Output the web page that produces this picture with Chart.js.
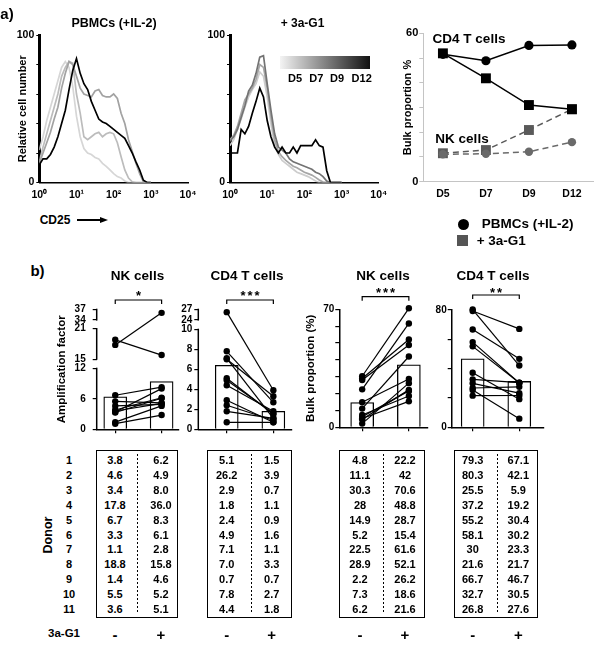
<!DOCTYPE html>
<html>
<head>
<meta charset="utf-8">
<script src="https://cdn.jsdelivr.net/npm/chart.js@4.4.1/dist/chart.umd.min.js"></script>
<style>
html, body { margin: 0; padding: 0; background: #fff; }
#fig { position: relative; width: 600px; height: 645px; overflow: hidden; background: #fff;
       font-family: "Liberation Sans", Arial, sans-serif; font-weight: bold; color: #000; }
.lbl { position: absolute; white-space: nowrap; transform: translate(-50%, -50%); line-height: 1; }
.tbl { position: absolute; border: 1.5px solid #000; box-sizing: border-box; }
</style>
</head>
<body>
<div id="fig"></div>
<script>
// ---- panel a: CD25 histograms (x in decades of CD25 fluorescence) ----
const cd25Decades = [0, 0.1, 0.2, 0.3, 0.4, 0.5, 0.6, 0.7, 0.8, 0.9, 1.0, 1.1, 1.2, 1.3, 1.4, 1.5,
                     1.6, 1.7, 1.8, 1.9, 2.0, 2.1, 2.2, 2.3, 2.4, 2.5, 2.6, 2.7, 2.8, 2.9, 3.0];
const decadeTicks = [0, 1, 2, 3, 4];
const histDays = ['D5', 'D7', 'D9', 'D12'];

const pbmcD5  = [22, 31, 42, 51, 60, 69, 78, 82, 78, 65, 45, 31, 23, 20, 19, 17, 16, 13, 11, 8.5, 6, 4, 3, 1, 0, 0, 0, 0, 0, 0, 0];
const pbmcD7  = [14, 24, 33, 42, 51, 60, 72, 78, 82, 81, 60, 47, 31, 29, 31, 33, 34, 31, 33, 34, 33, 27, 17.5, 8.5, 3, 0.5, 0, 0, 0, 0, 0];
const pbmcD9  = [13, 20, 27, 34, 43, 51, 64, 74, 82, 80, 72, 64, 60, 59, 58, 62, 63, 59, 58, 58, 60, 57, 47, 40, 29, 21, 13, 6, 0.5, 0, 0];
const pbmcD12 = [12, 16, 16, 19, 24, 31, 40, 49, 63, 76, 84, 74, 67, 63, 55, 49, 43, 41, 40, 38, 36, 34, 32, 30, 25, 20, 14, 8.5, 1.5, 0, 0];

const g1D5  = [25, 29, 36, 43, 51, 58, 63, 67, 75, 72, 58, 40, 25, 19, 15, 13, 11, 9, 7, 6, 5, 4, 2.5, 1, 0, 0, 0, 0, 0, 0, 0];
const g1D7  = [29, 32, 38, 47, 56, 60, 64, 70, 80, 78, 64, 45, 29, 21, 17.5, 15, 13, 11, 10, 8.5, 7, 6, 5, 3.5, 1.7, 0.3, 0, 0, 0, 0, 0];
const g1D9  = [28, 31, 36, 44, 52, 62, 66, 74, 85, 86, 67, 49, 33, 24, 22, 20, 16, 14, 13, 12, 11, 10, 9, 7, 6, 4, 1, 0, 0, 0, 0];
const g1D12 = [20, 20, 20, 36, 33, 38, 47, 55, 64, 58, 42, 31, 24, 20, 24, 20, 20, 24, 20, 25, 25, 25, 25, 29, 25, 24, 8, 0, 0, 0, 0];

// ---- panel a: bulk proportion over time ----
const bulkDays = ['D5', 'D7', 'D9', 'D12'];
const cd4Pbmc = [51.5, 48.9, 55.1, 55.3];
const cd4G1   = [51.9, 41.8, 31.0, 29.3];
const nkPbmc  = [11.1, 11.3, 12.1, 16.0];
const nkG1    = [11.5, 12.8, 20.9, 29.3];
const bulkTicks = [0, 10, 20, 30, 40, 50, 60];
const bulkShown = [0, 60];
const legendLabels = ['PBMCs (+IL-2)', '+ 3a-G1'];

// ---- panel b: per-donor values ----
const donors = ['1', '2', '3', '4', '5', '6', '7', '8', '9', '10', '11'];
const nkAmpMinus   = [3.8, 4.6, 3.4, 17.8, 6.7, 3.3, 1.1, 18.8, 1.4, 5.5, 3.6];
const nkAmpPlus    = [6.2, 4.9, 8.0, 36.0, 8.3, 6.1, 2.8, 15.8, 4.6, 5.2, 5.1];
const cd4AmpMinus  = [5.1, 26.2, 2.9, 1.8, 2.4, 4.9, 7.1, 7.0, 0.7, 7.8, 4.4];
const cd4AmpPlus   = [1.5, 3.9, 0.7, 1.1, 0.9, 1.6, 1.1, 3.3, 0.7, 2.7, 1.8];
const nkBulkMinus  = [4.8, 11.1, 30.3, 28, 14.9, 5.2, 22.5, 28.9, 2.2, 7.3, 6.2];
const nkBulkPlus   = [22.2, 42, 70.6, 48.8, 28.7, 15.4, 61.6, 52.1, 26.2, 18.6, 21.6];
const cd4BulkMinus = [79.3, 80.3, 25.5, 37.2, 55.2, 58.1, 30, 21.6, 66.7, 32.7, 26.8];
const cd4BulkPlus  = [67.1, 42.1, 5.9, 19.2, 30.4, 30.2, 23.3, 21.7, 46.7, 30.5, 27.6];
// bar heights (means)
const nkAmpMean   = [6.4, 9.4];
const cd4AmpMean  = [6.4, 1.8];
const nkBulkMean  = [14.7, 37.1];
const cd4BulkMean = [46.7, 31.3];
// tick labels
const nkAmpTicks  = [0, 6, 12, 15, 21, 34, 37];
const cd4AmpTicks = [0, 2, 4, 6, 8, 10, 24, 27];
const nkBulkTicks = [0, 10, 20, 30, 40, 50, 60, 70];
const nkBulkShown = [0, 70];
const cd4BulkTicks = [0, 20, 40, 60, 80];
const cd4BulkShown = [0, 80];
const signif = ['*', '***', '***', '**'];
const treatment = ['-', '+'];

// broken y axes: real value -> axis units
function brkNK(v) { if (v <= 12) return v; if (v <= 21) return 13.8 + (v - 15); return 21.5 + (v - 34) * 0.7; }
function brkCD4(v) { if (v <= 10) return v; return 10.93 + (v - 24) * 0.357; }

Chart.defaults.font.family = '"Liberation Sans", Arial, sans-serif';
Chart.defaults.font.weight = 'bold';
Chart.defaults.color = '#000';
Chart.defaults.animation = false;
Chart.defaults.responsive = false;
Chart.defaults.events = [];
Chart.defaults.plugins.legend.display = false;
Chart.defaults.plugins.tooltip.enabled = false;

const fig = document.getElementById('fig');
const sup = ['\u2070', '\u00B9', '\u00B2', '\u00B3', '\u2074'];

function addText(txt, x, y, size, extra) {
    const el = document.createElement('div');
    el.className = 'lbl';
    el.textContent = txt;
    el.style.left = x + 'px';
    el.style.top = y + 'px';
    el.style.fontSize = size + 'px';
    if (extra) Object.assign(el.style, extra);
    fig.appendChild(el);
    return el;
}

function makeCanvas(left, top, w, h) {
    const c = document.createElement('canvas');
    c.width = w; c.height = h;
    c.style.cssText = `position:absolute;left:${left}px;top:${top}px;width:${w}px;height:${h}px`;
    fig.appendChild(c);
    return c.getContext('2d');
}

const fixW = w => s => { s.width = w; s.paddingTop = 0; s.paddingBottom = 0; };
const fixH = h => s => { s.height = h; s.paddingLeft = 0; s.paddingRight = 0; };

// histograms
function histChart(left, series, colors, yW, padRight, yTitle) {
    const ctx = makeCanvas(left, 0, 200, 210);
    const drawOrder = [3, 2, 1, 0]; // D12 on top
    new Chart(ctx, {
        type: 'line',
        data: {
            datasets: drawOrder.map(i => ({
                label: histDays[i],
                data: cd25Decades.map((d, j) => ({x: d, y: series[i][j]})),
                borderColor: colors[i],
                borderWidth: 1.7,
                pointRadius: 0,
                tension: 0,
                fill: false
            }))
        },
        options: {
            layout: {padding: {top: 35, right: padRight, left: 0, bottom: 0}},
            scales: {
                x: {
                    type: 'linear', min: 0, max: 4,
                    afterFit: fixH(27.5),
                    afterBuildTicks: a => { a.ticks = decadeTicks.map(v => ({value: v})); },
                    ticks: {callback: v => '10' + sup[v], font: {size: 10.5, weight: 'bold'}, padding: 6, maxRotation: 0, autoSkip: false},
                    grid: {drawOnChartArea: false, drawTicks: false},
                    border: {color: '#000', width: 1.5}
                },
                y: {
                    min: 0, max: 100,
                    afterFit: fixW(yW),
                    ticks: {stepSize: 20, callback: v => (v === 0 || v === 100) ? v : '', font: {size: 10.5, weight: 'bold'}, padding: 2},
                    grid: {drawOnChartArea: false, tickLength: 3, color: '#000'},
                    border: {color: '#000', width: 3},
                    title: {display: !!yTitle, text: yTitle || '', font: {size: 11, weight: 'bold'}, padding: {top: 16.4, bottom: 0}}
                }
            }
        }
    });
}

histChart(0, [pbmcD5, pbmcD7, pbmcD9, pbmcD12], ['#d6d6d6', '#bcbcbc', '#a2a2a2', '#000'], 39.3, 12, 'Relative cell number');
histChart(190, [g1D5, g1D7, g1D9, g1D12], ['#cdcdcd', '#a6a6a6', '#737373', '#000'], 40, 11.2, '');

// bulk proportion line chart
const ctxL = makeCanvas(380, 0, 220, 210);
function lineSet(vals, color, style, radius, dash) {
    return {
        data: vals.map((v, i) => ({x: i, y: v})),
        borderColor: color, borderWidth: 1.5, borderDash: dash,
        pointStyle: style, pointRadius: radius,
        pointBackgroundColor: color, pointBorderColor: color, pointBorderWidth: 0,
        tension: 0, fill: false, clip: false
    };
}
new Chart(ctxL, {
    type: 'line',
    data: {
        datasets: [
            lineSet(cd4Pbmc, '#000', 'circle', 4.6, []),
            lineSet(cd4G1, '#000', 'rect', 7, []),
            lineSet(nkPbmc, '#6a6a6a', 'circle', 4.2, [6, 4]),
            lineSet(nkG1, '#5a5a5a', 'rect', 7, [6, 4])
        ]
    },
    options: {
        layout: {padding: {top: 33.3, right: 3.3, left: 0, bottom: 0}},
        scales: {
            x: {
                type: 'linear', min: -0.456, max: 3.49,
                afterFit: fixH(28.3),
                afterBuildTicks: a => { a.ticks = bulkDays.map((d, i) => ({value: i})); },
                ticks: {callback: v => bulkDays[v], font: {size: 10.5, weight: 'bold'}, padding: 6, maxRotation: 0, autoSkip: false},
                grid: {drawOnChartArea: false, drawTicks: false},
                border: {color: '#c4c4c4', width: 1}
            },
            y: {
                min: 0, max: 60,
                afterFit: fixW(43.3),
                afterBuildTicks: a => { a.ticks = bulkTicks.map(v => ({value: v})); },
                ticks: {callback: v => bulkShown.includes(v) ? v : '', font: {size: 11, weight: 'bold'}, padding: 1, autoSkip: false},
                grid: {drawOnChartArea: false, tickLength: 4, color: '#c4c4c4'},
                border: {color: '#c4c4c4', width: 1},
                title: {display: true, text: 'Bulk proportion %', font: {size: 11, weight: 'bold'}, padding: {top: 21.7, bottom: 0}}
            }
        }
    }
});

// panel b paired charts
function pairChart(o) {
    const ctx = makeCanvas(o.left, 280, o.w, 170);
    const map = o.map || (v => v);
    const decor = {
        id: 'decor',
        afterDatasetsDraw(chart) {
            const {ctx, chartArea: ca, scales: {x, y}} = chart;
            ctx.save();
            ctx.strokeStyle = '#000';
            if (o.segments) {
                ctx.lineWidth = 1.5;
                o.segments.forEach(([a, b]) => {
                    ctx.beginPath();
                    ctx.moveTo(ca.left, y.getPixelForValue(map(a)) + 0.6);
                    ctx.lineTo(ca.left, y.getPixelForValue(map(b)) - 0.6);
                    ctx.stroke();
                });
            }
            const x0 = x.getPixelForValue(0), x1 = x.getPixelForValue(1);
            ctx.lineWidth = 1.2;
            ctx.beginPath();
            ctx.moveTo(x0, o.bracketY + 4);
            ctx.lineTo(x0, o.bracketY);
            ctx.lineTo(x1, o.bracketY);
            ctx.lineTo(x1, o.bracketY + 4);
            ctx.stroke();
            ctx.fillStyle = '#000';
            ctx.font = 'bold 13px "Liberation Sans", Arial, sans-serif';
            ctx.textAlign = 'center';
            ctx.textBaseline = 'alphabetic';
            ctx.letterSpacing = '2px';
            ctx.fillText(o.stars, (x0 + x1) / 2 + 1, o.starY + 7.4);
            ctx.restore();
        }
    };
    new Chart(ctx, {
        type: 'bar',
        data: {
            datasets: [
                {
                    type: 'bar',
                    data: o.mean.map((m, i) => ({x: i, y: map(m)})),
                    backgroundColor: '#fff', borderColor: '#000', borderWidth: 1.3,
                    barThickness: 23, order: 2
                },
                ...o.minus.map((m, i) => ({
                    type: 'line',
                    data: [{x: 0, y: map(m)}, {x: 1, y: map(o.plus[i])}],
                    borderColor: '#000', borderWidth: 1.2,
                    pointRadius: 3.2, pointBackgroundColor: '#000', pointBorderWidth: 0,
                    tension: 0, fill: false, clip: false, order: 1
                }))
            ]
        },
        options: {
            layout: {padding: {left: 0, top: o.top, right: o.padRight, bottom: 0}},
            scales: {
                x: {
                    type: 'linear', offset: false, min: o.xMin, max: o.xMax,
                    afterFit: fixH(o.xH),
                    afterBuildTicks: a => { a.ticks = treatment.map((t, i) => ({value: i})); },
                    ticks: {callback: () => '', autoSkip: false},
                    grid: {offset: false, drawOnChartArea: false, tickLength: 4, color: '#000', lineWidth: 1.2},
                    border: {color: '#000', width: 1.5}
                },
                y: {
                    min: 0, max: o.yMax,
                    afterFit: fixW(o.yW),
                    afterBuildTicks: a => { a.ticks = o.ticks.map(v => ({value: map(v)})); },
                    ticks: {
                        callback: (v, i) => (!o.shown || o.shown.includes(o.ticks[i])) ? String(o.ticks[i]) : '',
                        font: {size: 10, weight: 'bold'}, padding: o.tickPad, autoSkip: false
                    },
                    grid: {drawOnChartArea: false, tickLength: 4, color: '#000', lineWidth: 1.2},
                    border: {display: !o.segments, color: '#000', width: 1.5},
                    title: {display: !!o.yTitle, text: o.yTitle || '', font: {size: 11.5, weight: 'bold'}, padding: {top: o.titlePad || 0, bottom: 0}}
                }
            }
        },
        plugins: [decor]
    });
}

pairChart({left: 0, w: 190, yW: 96.7, padRight: 11.7, top: 29.3, xH: 20.7, xMin: -0.40, xMax: 1.36,
    minus: nkAmpMinus, plus: nkAmpPlus, mean: nkAmpMean, map: brkNK, yMax: 23.6,
    ticks: nkAmpTicks, tickPad: 7, segments: [[0, 12], [15, 21], [34, 37]],
    yTitle: 'Amplification factor', titlePad: 55.1, stars: signif[0], bracketY: 20, starY: 12.7});
pairChart({left: 150, w: 150, yW: 48.3, padRight: 8, top: 29.3, xH: 20.7, xMin: -0.61, xMax: 1.40,
    minus: cd4AmpMinus, plus: cd4AmpPlus, mean: cd4AmpMean, map: brkCD4, yMax: 12.0,
    ticks: cd4AmpTicks, tickPad: 2, segments: [[0, 10], [24, 27]],
    stars: signif[1], bracketY: 20, starY: 12.7});
pairChart({left: 295, w: 145, yW: 44.3, padRight: 12, top: 29.3, xH: 22.7, xMin: -0.49, xMax: 1.41,
    minus: nkBulkMinus, plus: nkBulkPlus, mean: nkBulkMean, yMax: 70,
    ticks: nkBulkTicks, shown: nkBulkShown, tickPad: 1,
    yTitle: 'Bulk proportion (%)', titlePad: 8.8, stars: signif[2], bracketY: 16.7, starY: 10});
pairChart({left: 425, w: 130, yW: 26.7, padRight: 11.7, top: 30, xH: 22.7, xMin: -0.45, xMax: 1.515,
    minus: cd4BulkMinus, plus: cd4BulkPlus, mean: cd4BulkMean, yMax: 80,
    ticks: cd4BulkTicks, shown: cd4BulkShown, tickPad: 1,
    stars: signif[3], bracketY: 15, starY: 9.5});

// ---- text, legend, tables ----
addText('a)', 7, 12.5, 15);
addText('b)', 37.5, 270, 15);
addText('PBMCs (+IL-2)', 114, 23, 12.5);
addText('+ 3a-G1', 302.5, 22.7, 12);
addText('CD4 T cells', 469, 39, 13.5);
addText('NK cells', 462, 138.7, 13.5);

// day gradient key
const grad = document.createElement('div');
grad.style.cssText = 'position:absolute;left:280px;top:56px;width:90px;height:13px;background:linear-gradient(to right,#f4f4f4,#111);';
fig.appendChild(grad);
const dayX = [295, 316.3, 337, 361.7];
histDays.forEach((d, i) => addText(d, dayX[i], 77.5, 11));

// CD25 arrow
addText('CD25', 55, 220, 12);
const shaft = document.createElement('div');
shaft.style.cssText = 'position:absolute;left:77px;top:219.3px;width:24px;height:1.6px;background:#000;';
fig.appendChild(shaft);
const head = document.createElement('div');
head.style.cssText = 'position:absolute;left:100px;top:216.5px;width:0;height:0;border-top:3.6px solid transparent;border-bottom:3.6px solid transparent;border-left:8px solid #000;';
fig.appendChild(head);

// custom legend for the bulk proportion chart
function createCustomLegend() {
    const shapes = [{shape: 'circle', color: '#000', x: 463.3, y: 224, tx: 481.7},
                    {shape: 'square', color: '#555', x: 462.3, y: 240.7, tx: 476.7}];
    legendLabels.forEach((label, i) => {
        const s = shapes[i];
        const mark = document.createElement('div');
        mark.style.cssText = `position:absolute;left:${s.x - 5.5}px;top:${s.y - 5.5}px;width:11px;height:11px;background:${s.color};` +
            (s.shape === 'circle' ? 'border-radius:50%;' : '');
        fig.appendChild(mark);
        addText(label, s.tx, s.y, 13.5, {transform: 'translate(0,-50%)'});
    });
}
createCustomLegend();

// panel titles
const titleX = [137.5, 247, 383, 493];
['NK cells', 'CD4 T cells', 'NK cells', 'CD4 T cells'].forEach((t, i) => addText(t, titleX[i], 276, 13.5));

// donor tables
const rowY0 = 460, rowStep = 14.9;
donors.forEach((d, i) => addText(d, 69, rowY0 + i * rowStep, 11));
addText('Donor', 48.3, 535, 12.5, {transform: 'translate(-50%,-50%) rotate(-90deg)'});
addText('3a-G1', 64, 634, 11.5);

function makeTable(left, right, divX, colMinus, colPlus, minus, plus, fmt) {
    const box = document.createElement('div');
    box.className = 'tbl';
    box.style.left = left + 'px';
    box.style.top = '450px';
    box.style.width = (right - left) + 'px';
    box.style.height = '167.5px';
    fig.appendChild(box);
    const dv = document.createElement('div');
    dv.style.cssText = `position:absolute;left:${divX}px;top:454px;width:1px;height:160px;` +
        'background:repeating-linear-gradient(to bottom,#000 0 2px,transparent 2px 4px);';
    fig.appendChild(dv);
    minus.forEach((v, i) => {
        addText(fmt(v), colMinus, rowY0 + i * rowStep, 11);
        addText(fmt(plus[i]), colPlus, rowY0 + i * rowStep, 11);
    });
    addText(treatment[0], colMinus, 634, 15);
    addText(treatment[1], colPlus, 634, 15);
}
const amp = v => v.toFixed(1);
const raw = v => String(v);
makeTable(95.7, 178.3, 136.7, 115, 161, nkAmpMinus, nkAmpPlus, amp);
makeTable(206.7, 292.3, 250.7, 226.7, 271.7, cd4AmpMinus, cd4AmpPlus, amp);
makeTable(339.3, 425, 382.7, 360, 405, nkBulkMinus, nkBulkPlus, raw);
makeTable(454.3, 537.7, 496.7, 472.7, 518.3, cd4BulkMinus, cd4BulkPlus, raw);
</script>
</body>
</html>
